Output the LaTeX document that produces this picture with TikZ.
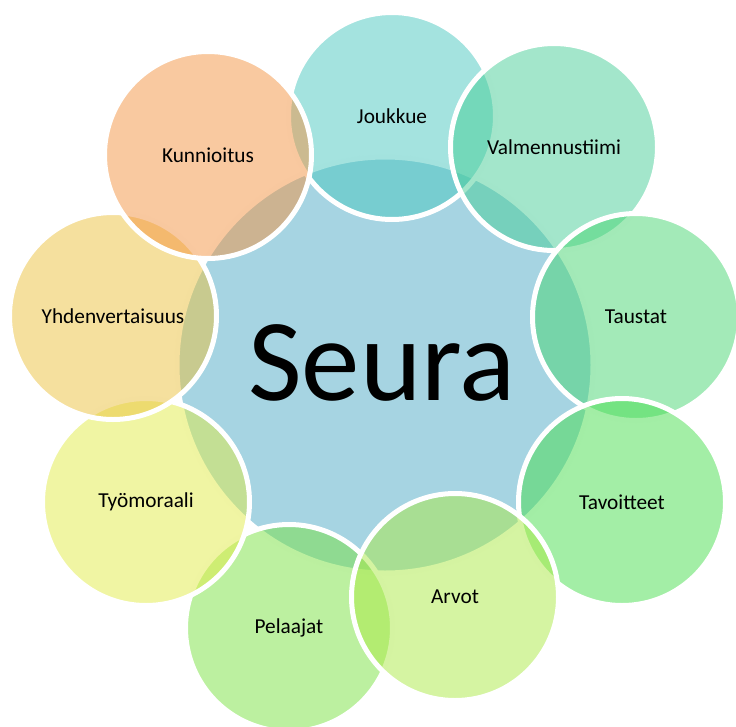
\documentclass[tikz,border=0pt]{standalone}
\usepackage{fontspec}
\setmainfont{Carlito}
% fill colours of the bubbles (drawn at half opacity)
\definecolor{cSeura}{RGB}{166,212,226}
\definecolor{cJoukkue}{RGB}{73,199,191}
\definecolor{cValm}{RGB}{71,205,151}
\definecolor{cTaustat}{RGB}{71,213,113}
\definecolor{cTavoitteet}{RGB}{71,221,77}
\definecolor{cArvot}{RGB}{171,233,69}
\definecolor{cPelaajat}{RGB}{121,225,65}
\definecolor{cTyomoraali}{RGB}{225,235,71}
\definecolor{cYhd}{RGB}{235,193,61}
\definecolor{cKunnioitus}{RGB}{243,147,65}
\begin{document}
\begin{tikzpicture}[x=1pt,y=-1pt,
  bubble/.style={circle, inner sep=0pt, minimum size=207pt,
    fill=#1, fill opacity=0.5, text opacity=1,
    draw=white, draw opacity=1, line width=5pt,
    font=\fontsize{21.3}{25}\selectfont, text=black},
  hub/.style={circle, inner sep=0pt, minimum size=416pt,
    fill=cSeura, draw=white, line width=5pt}
]
\useasboundingbox (0,0) rectangle (736,726);
\clip (0,0) rectangle (736,726);

\node[hub] (seura) at (385,365) {};
\node[bubble=cJoukkue]    (joukkue)    at (392,116) {Joukkue};
\node[bubble=cValm]       (valm)       at (554,147) {Valmennustiimi};
\node[bubble=cTaustat]    (taustat)    at (636,317) {Taustat};
\node[bubble=cTavoitteet] (tavoitteet) at (622,502) {Tavoitteet};
\node[bubble=cPelaajat]   (pelaajat)   at (289,628) {Pelaajat};
\node[bubble=cArvot]      (arvot)      at (455,597) {Arvot};
\node[bubble=cTyomoraali] (tyomoraali) at (146,502) {Työmoraali};
\node[bubble=cYhd]        (yhd)        at (113,316) {Yhdenvertaisuus};
\node[bubble=cKunnioitus] (kunnioitus) at (208,155) {Kunnioitus};

\node[font=\fontsize{117}{124}\selectfont, anchor=base] (seuratext) at (382,400) {Seura};
\end{tikzpicture}
\end{document}
